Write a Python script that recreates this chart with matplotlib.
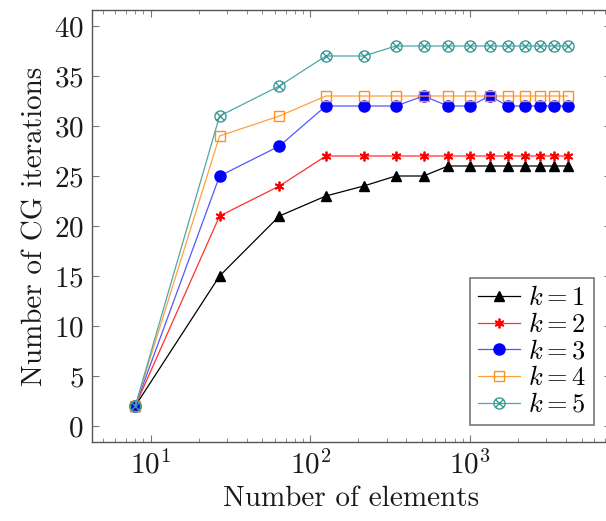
import matplotlib
matplotlib.use("Agg")
import matplotlib.pyplot as plt
from matplotlib.path import Path
import numpy as np

# Data
elements = [8, 27, 64, 125, 216, 343, 512, 729, 1000, 1331, 1728, 2197, 2744, 3375, 4096]
k1 = [2, 15, 21, 23, 24, 25, 25, 26, 26, 26, 26, 26, 26, 26, 26]
k2 = [2, 21, 24, 27, 27, 27, 27, 27, 27, 27, 27, 27, 27, 27, 27]
k3 = [2, 25, 28, 32, 32, 32, 33, 32, 32, 33, 32, 32, 32, 32, 32]
k4 = [2, 29, 31, 33, 33, 33, 33, 33, 33, 33, 33, 33, 33, 33, 33]
k5 = [2, 31, 34, 37, 37, 38, 38, 38, 38, 38, 38, 38, 38, 38, 38]
labels = [r"$k = 1$", r"$k = 2$", r"$k = 3$", r"$k = 4$", r"$k = 5$"]

plt.rcParams['mathtext.fontset'] = 'cm'
plt.rcParams['font.family'] = 'serif'
plt.rcParams['font.serif'] = ['cmr10', 'DejaVu Serif']
plt.rcParams['axes.formatter.use_mathtext'] = True

# otimes marker: circle with an x inside
circ = Path.unit_circle()
d = np.sqrt(0.5)
xverts = [(-d, -d), (d, d), (-d, d), (d, -d)]
xcodes = [Path.MOVETO, Path.LINETO, Path.MOVETO, Path.LINETO]
otimes = Path(np.concatenate([circ.vertices, xverts]),
              np.concatenate([circ.codes, xcodes]))

fig = plt.figure(figsize=(6.06, 5.21), dpi=100)
ax = fig.add_axes([92/606, (521-442)/521, 519/606, 432/521])

styles = [
    dict(color='black', marker='^', ms=6.5, mfc='black', mec='black'),
    dict(color='#ff3030', marker=(6, 2, 0), ms=7, mfc='#ff0000', mec='#ff0000', mew=1.3),
    dict(color='#5555ff', marker='o', ms=8, mfc='#0000ff', mec='#0000ff'),
    dict(color='#ffa040', marker='s', ms=7.5, mfc='none', mec='#ff9020', mew=1.0),
    dict(color='#4ea8a6', marker=otimes, ms=8, mfc='none', mec='#3a9d9a', mew=1.0),
]
series = [k1, k2, k3, k4, k5]
for ys, st, lab in zip(series, styles, labels):
    ax.plot(elements, ys, lw=0.9, label=lab, **st)

ax.set_xscale('log')
lo, hi = np.log10(8), np.log10(4096)
ext = 0.1 * (hi - lo)
ax.set_xlim(10**(lo - ext), 10**(hi + ext))
ax.set_ylim(-1.6, 41.6)
ax.set_yticks(range(0, 41, 5))

FS = 21
for s in ax.spines.values():
    s.set_color('#555555')
    s.set_linewidth(1.0)
ax.tick_params(which='both', direction='in', top=True, right=True, color='#777777',
               labelsize=FS, labelcolor='#1a1a1a')
ax.tick_params(which='major', length=5, width=0.8, pad=6)
ax.tick_params(which='minor', length=3, width=0.6)
ax.tick_params(axis='y', which='minor', left=False, right=False)

ax.set_xlabel('Number of elements', fontsize=FS, color='#1a1a1a', labelpad=4)
ax.set_ylabel('Number of CG iterations', fontsize=FS, color='#1a1a1a', labelpad=4)

leg = ax.legend(loc='lower right', fontsize=19, frameon=True, fancybox=False,
                edgecolor='#555555', handlelength=1.6, handletextpad=0.3,
                borderpad=0.3, labelspacing=0.1, borderaxespad=0.65)
leg.get_frame().set_linewidth(1.2)

fig.savefig('out.png', dpi=100)
